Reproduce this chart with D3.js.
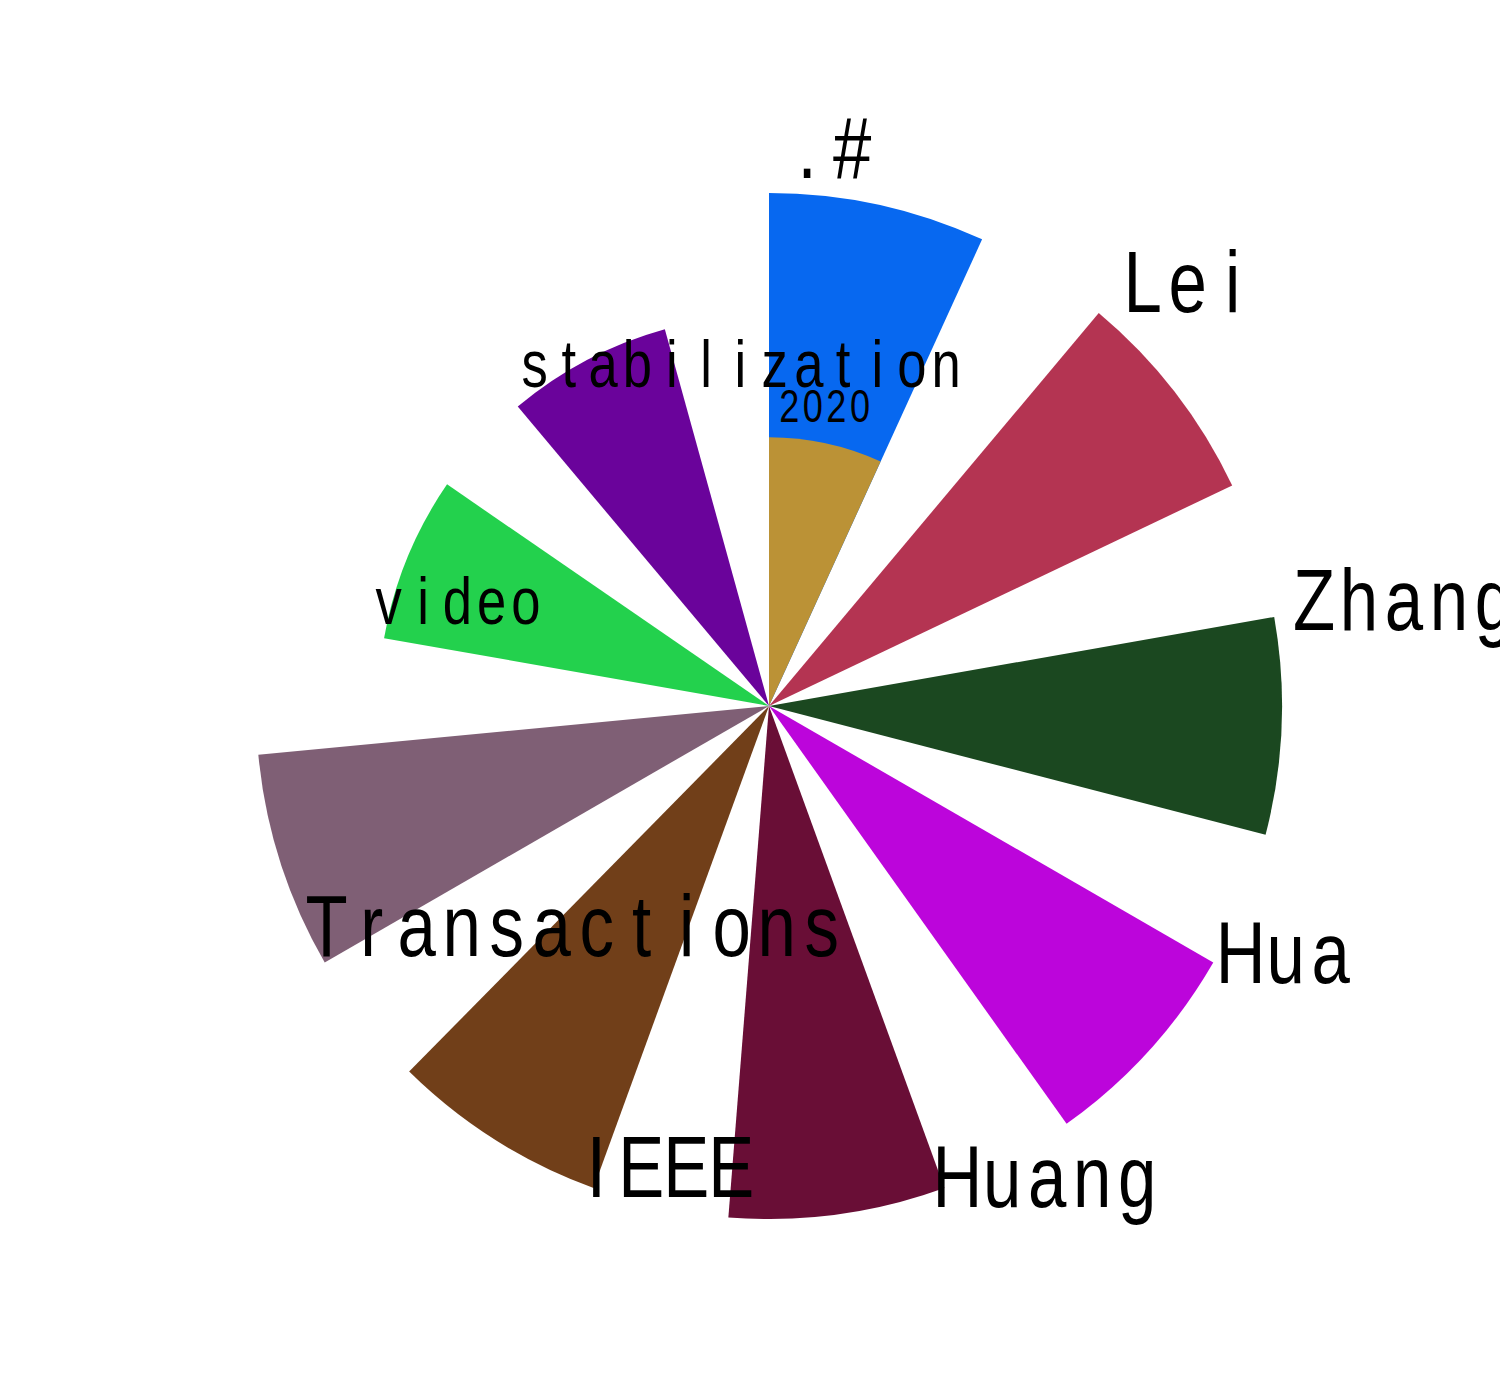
<!DOCTYPE html>
<html>
<head>
<meta charset="utf-8">
<script src="https://cdn.jsdelivr.net/npm/d3@7"></script>
<style>
  html, body { margin: 0; padding: 0; background: #ffffff; }
  svg { display: block; }
</style>
</head>
<body>
<svg id="chart" width="1500" height="1400"></svg>
<script>
// ---- data ----
const words  = [".#", "Lei", "Zhang", "Hua", "Huang", "IEEE", "Transactions", "video", "stabilization"];
const counts = [21, 21, 21, 21, 21, 21, 21, 16, 16];
const colors = ["#0768F0", "#B43452", "#1B4820", "#BC05DB", "#690E36", "#713F19", "#7F5F75", "#23D14D", "#6A039B"];
// overlay word drawn inside the band of another word
const overlayWords  = ["2020"];
const overlayCounts = [11];
const overlayAt     = [".#"];
const overlayColors = ["#BB9236"];

// ---- layout ----
const W = 1500, H = 1400;
const cx = 769, cy = 706;
const maxR = 513;

const svg = d3.select("#chart");
svg.append("rect").attr("width", W).attr("height", H).attr("fill", "#ffffff");
const g = svg.append("g").attr("transform", `translate(${cx},${cy})`);

const angle = d3.scaleBand()
  .domain(words)
  .range([0, 2 * Math.PI])
  .paddingInner(0.3864)
  .paddingOuter(0.1932)
  .align(0);
const radius = d3.scaleLinear().domain([0, 21]).range([0, maxR]);
const fontSize = d3.scaleLinear().domain([0, 21]).range([0, 90]);

const arc = d3.arc().innerRadius(0);

const main = words.map((w, i) => ({ word: w, count: counts[i], color: colors[i], band: w }));
const over = overlayWords.map((w, i) => ({ word: w, count: overlayCounts[i], color: overlayColors[i], band: overlayAt[i] }));
const all = main.concat(over);

g.selectAll("path.bar")
  .data(all)
  .join("path")
  .attr("class", "bar")
  .attr("fill", d => d.color)
  .attr("d", d => arc({
    outerRadius: radius(d.count),
    startAngle: angle(d.band),
    endAngle: angle(d.band) + angle.bandwidth()
  }));

// labels: each character centred in a fixed-width (half-em) cell, glyphs slightly condensed
const angOff = 1.7 * Math.PI / 180;
const radOff = 15;
const condense = 0.79;
const labels = g.selectAll("g.lbl")
  .data(all)
  .join("g")
  .attr("class", "lbl")
  .attr("transform", d => {
    const th = angle(d.band) + angOff;
    const R = radius(d.count) + radOff;
    return `translate(${(R * Math.sin(th)).toFixed(2)},${(-R * Math.cos(th)).toFixed(2)})`;
  });

labels.each(function(d) {
  const cell = fontSize(d.count) / 2;
  const chars = Array.from(d.word).map((c, i) => ({ c, i }));
  d3.select(this).selectAll("text")
    .data(chars)
    .join("text")
    .attr("font-family", "'Liberation Sans', Arial, sans-serif")
    .attr("font-size", (fontSize(d.count) * 0.97).toFixed(2))
    .attr("fill", "#000000")
    .attr("text-anchor", "middle")
    .attr("transform", e => `translate(${((e.i + 0.5) * cell).toFixed(2)},0) scale(${condense},1)`)
    .attr("x", 0)
    .attr("y", 0)
    .text(e => e.c);
});
</script>
</body>
</html>
